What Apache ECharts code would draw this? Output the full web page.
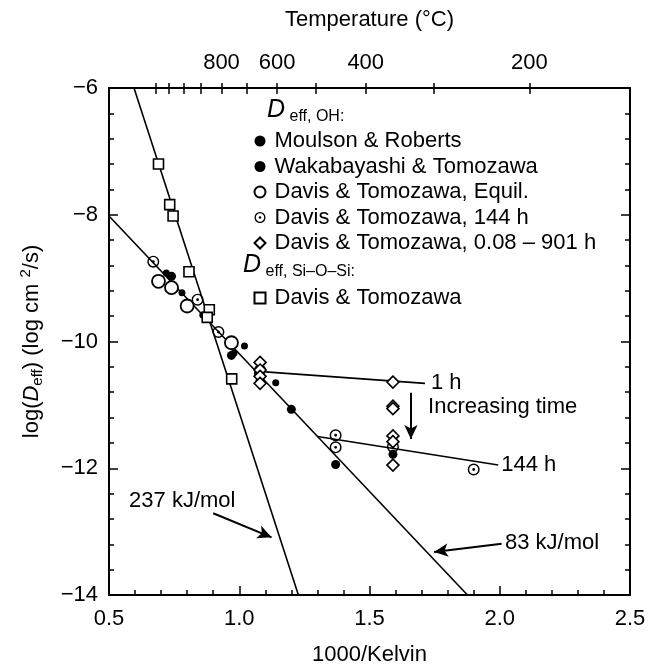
<!DOCTYPE html>
<html>
<head>
<meta charset="utf-8">
<script src="https://cdn.jsdelivr.net/npm/echarts@6/dist/echarts.min.js"></script>
<style>
  html, body { margin: 0; padding: 0; background: #fff; }
  #chart { width: 652px; height: 671px; }
</style>
</head>
<body>
<div id="chart"></div>
<script>
// 数据 (1000/K, log Deff)
var moulsonX = [0.72, 0.78, 0.86, 0.98, 1.02, 1.07, 1.14];
var moulsonY = [-8.92, -9.23, -9.58, -10.18, -10.07, -10.50, -10.65];
var wakaX = [0.74, 0.97, 1.08, 1.20, 1.37, 1.59];
var wakaY = [-8.97, -10.22, -10.62, -11.07, -11.94, -11.78];
var equilX = [0.69, 0.74, 0.80, 0.97];
var equilY = [-9.05, -9.15, -9.44, -10.02];
var dot144X = [0.67, 0.84, 0.92, 1.08, 1.37, 1.37, 1.59, 1.90];
var dot144Y = [-8.74, -9.34, -9.85, -10.45, -11.48, -11.67, -11.66, -12.02];
var diaX = [1.08, 1.08, 1.08, 1.08, 1.59, 1.59, 1.59, 1.59, 1.59, 1.59];
var diaY = [-10.33, -10.45, -10.55, -10.66, -10.64, -11.02, -11.06, -11.49, -11.58, -11.95];
var squareX = [0.69, 0.733, 0.746, 0.807, 0.885, 0.877, 0.971];
var squareY = [-7.20, -7.84, -8.02, -8.90, -9.50, -9.62, -10.59];

// 拟合直线
var line237X = [0.596, 1.227], line237Y = [-6, -14];
var line83X = [0.5, 1.876], line83Y = [-8.02, -14];
var line1hX = [1.10, 1.713], line1hY = [-10.48, -10.66];
var line144X = [1.30, 1.994], line144Y = [-11.50, -11.95];

// 箭头与注释
var arrow237 = [[0.900, -12.71], [1.124, -13.09]];
var arrow83 = [[2.007, -13.19], [1.748, -13.32]];
var arrowTime = [[1.659, -10.81], [1.659, -11.54]];
var noteText = ['237 kJ/mol', '83 kJ/mol', 'Increasing time'];
var noteX = [0.577, 2.02, 1.725];
var noteY = [-12.52, -13.18, -11.04];

// 坐标轴刻度
var xTicks = [0.5, 1.0, 1.5, 2.0, 2.5];
var yTicks = [-14, -12, -10, -8, -6];
var tempTicks = [1200, 1100, 1000, 900, 800, 700, 600, 500, 400, 300, 200];
var tempLabels = [800, 600, 400, 200];

var FONT = 'Liberation Sans';
var BLACK = '#000';

function zip(xs, ys) {
    return xs.map(function (x, i) { return [x, ys[i]]; });
}
function invK(t) { return 1000 / (t + 273.15); }

// 带中心点的圆
var RING_DOT = 'path://M0,-10A10,10 0 1,1 0,10A10,10 0 1,1 0,-10ZM0,-7.6A7.6,7.6 0 1,0 0,7.6A7.6,7.6 0 1,0 0,-7.6ZM0,-2.4A2.4,2.4 0 1,1 0,2.4A2.4,2.4 0 1,1 0,-2.4Z';

var myChart = echarts.init(document.getElementById('chart'));

function plainLine(name, xs, ys, endText, gap) {
    var s = {
        name: name,
        type: 'line',
        data: zip(xs, ys),
        symbol: 'none',
        silent: true,
        z: 1,
        lineStyle: { color: BLACK, width: 1.6 }
    };
    if (endText) {
        s.endLabel = {
            show: true, formatter: endText, distance: gap,
            fontSize: 22, color: BLACK, fontFamily: FONT
        };
    }
    return s;
}

function scatter(name, xs, ys, symbol, size, fill, border) {
    return {
        name: name,
        type: 'scatter',
        data: zip(xs, ys),
        symbol: symbol,
        symbolSize: size,
        z: 3,
        itemStyle: { color: fill, borderColor: BLACK, borderWidth: border, opacity: 1 }
    };
}

var tickStyle = { color: BLACK, width: 1.5 };
var lineStyle = { color: BLACK, width: 2 };

var option = {
    animation: false,
    textStyle: { fontFamily: FONT, color: BLACK },
    grid: { left: 109, right: 22, top: 88, bottom: 75 },
    xAxis: [{
        type: 'value', position: 'bottom', min: 0.5, max: 2.5, interval: 0.5,
        axisLine: { onZero: false, lineStyle: lineStyle },
        axisTick: { inside: true, length: 9, lineStyle: tickStyle },
        minorTick: { show: true, splitNumber: 5, length: 5, lineStyle: tickStyle },
        splitLine: { show: false },
        axisLabel: { fontSize: 22, color: BLACK, margin: 13,
            formatter: function (v) { return v.toFixed(1); } },
        name: '1000/Kelvin', nameLocation: 'middle', nameGap: 49,
        nameTextStyle: { fontSize: 22, color: BLACK }
    }, {
        type: 'value', position: 'top', min: 0.5, max: 2.5,
        axisLine: { onZero: false, lineStyle: lineStyle },
        axisTick: { inside: true, length: 6, lineStyle: tickStyle,
            customValues: tempTicks.map(invK) },
        splitLine: { show: false },
        axisLabel: { fontSize: 22, color: BLACK, margin: 14,
            customValues: tempLabels.map(invK),
            formatter: function (v) { return String(Math.round(1000 / v - 273.15)); } },
        name: 'Temperature (°C)', nameLocation: 'middle', nameGap: 57,
        nameTextStyle: { fontSize: 22, color: BLACK }
    }, {
        type: 'value', position: 'top', min: 0.5, max: 2.5,
        axisLine: { show: false },
        axisTick: { inside: false, length: 5, lineStyle: tickStyle,
            customValues: tempTicks.map(invK) },
        splitLine: { show: false },
        axisLabel: { show: false }
    }],
    yAxis: [{
        type: 'value', position: 'left', min: yTicks[0], max: yTicks[yTicks.length - 1], interval: 2,
        axisLine: { onZero: false, lineStyle: lineStyle },
        axisTick: { inside: true, length: 9, lineStyle: tickStyle },
        minorTick: { show: true, splitNumber: 5, length: 5, lineStyle: tickStyle },
        splitLine: { show: false },
        axisLabel: { fontSize: 22, color: BLACK, margin: 11,
            formatter: function (v) { return String(v).replace('-', '\u2212'); } },
        name: '{n|log(}{i|D}{s|eff}{n|) (log cm }{p|2}{n|/s)}',
        nameLocation: 'middle', nameGap: 64,
        nameTextStyle: {
            fontSize: 22, color: BLACK,
            rich: {
                n: { fontSize: 22, fontFamily: FONT },
                i: { fontSize: 22, fontFamily: FONT, fontStyle: 'italic' },
                s: { fontSize: 15, fontFamily: FONT, padding: [12, 0, 0, 0] },
                p: { fontSize: 15, fontFamily: FONT, padding: [0, 0, 12, 0] }
            }
        }
    }, {
        type: 'value', position: 'right', min: yTicks[0], max: yTicks[yTicks.length - 1], interval: 2,
        axisLine: { onZero: false, lineStyle: lineStyle },
        axisTick: { inside: true, length: 9, lineStyle: tickStyle },
        minorTick: { show: true, splitNumber: 5, length: 5, lineStyle: tickStyle },
        splitLine: { show: false },
        axisLabel: { show: false }
    }],
    legend: [{
        orient: 'vertical', left: 248.5, top: 125,
        itemWidth: 11, itemHeight: 11, itemGap: 3.5,
        textStyle: { fontSize: 22, color: BLACK, padding: [0, 0, 0, 4] },
        data: ['Moulson & Roberts', 'Wakabayashi & Tomozawa', 'Davis & Tomozawa, Equil.',
            'Davis & Tomozawa, 144 h', 'Davis & Tomozawa, 0.08 \u2013 901 h'],
        selectedMode: false
    }, {
        orient: 'vertical', left: 248.5, top: 282,
        itemWidth: 11, itemHeight: 11,
        textStyle: { fontSize: 22, color: BLACK, padding: [0, 0, 0, 4] },
        data: ['Davis & Tomozawa'],
        selectedMode: false
    }],
    graphic: [{
        type: 'text', x: 267, y: 110,
        style: {
            text: '{d|D}{s| eff, OH:}', verticalAlign: 'middle', fill: BLACK,
            rich: {
                d: { fontSize: 25, fontFamily: FONT, fontStyle: 'italic' },
                s: { fontSize: 16, fontFamily: FONT, padding: [13, 0, 0, 0] }
            }
        }
    }, {
        type: 'text', x: 243, y: 265,
        style: {
            text: '{d|D}{s| eff, Si\u2013O\u2013Si:}', verticalAlign: 'middle', fill: BLACK,
            rich: {
                d: { fontSize: 25, fontFamily: FONT, fontStyle: 'italic' },
                s: { fontSize: 16, fontFamily: FONT, padding: [13, 0, 0, 0] }
            }
        }
    }],
    series: [
        plainLine('237 line', line237X, line237Y),
        plainLine('83 line', line83X, line83Y),
        plainLine('1 h line', line1hX, line1hY, '1 h', 6),
        plainLine('144 h line', line144X, line144Y, '144 h', 3),
        scatter('Moulson & Roberts', moulsonX, moulsonY, 'circle', 7, BLACK, 0),
        scatter('Wakabayashi & Tomozawa', wakaX, wakaY, 'circle', 9, BLACK, 0),
        scatter('Davis & Tomozawa, Equil.', equilX, equilY, 'circle', 13, '#fff', 1.8),
        scatter('Davis & Tomozawa, 144 h', dot144X, dot144Y, RING_DOT, 12, BLACK, 0),
        scatter('Davis & Tomozawa, 0.08 \u2013 901 h', diaX, diaY, 'diamond', 12, '#fff', 1.6),
        scatter('Davis & Tomozawa', squareX, squareY, 'rect', 10, '#fff', 1.6),
        {
            name: 'notes',
            type: 'scatter',
            symbolSize: 0,
            silent: true,
            itemStyle: { opacity: 1 },
            data: noteText.map(function (t, i) { return { name: t, value: [noteX[i], noteY[i]] }; }),
            label: {
                show: true, position: 'right', distance: 0,
                formatter: '{b}', fontSize: 22, color: BLACK, fontFamily: FONT
            },
            markLine: {
                silent: true,
                symbol: ['none', 'arrow'],
                symbolSize: [10, 14],
                label: { show: false },
                lineStyle: { color: BLACK, width: 2, type: 'solid', opacity: 1 },
                data: [arrow237, arrow83, arrowTime].map(function (a) {
                    return [{ coord: a[0] }, { coord: a[1] }];
                })
            }
        }
    ]
};

myChart.setOption(option);
</script>
</body>
</html>
